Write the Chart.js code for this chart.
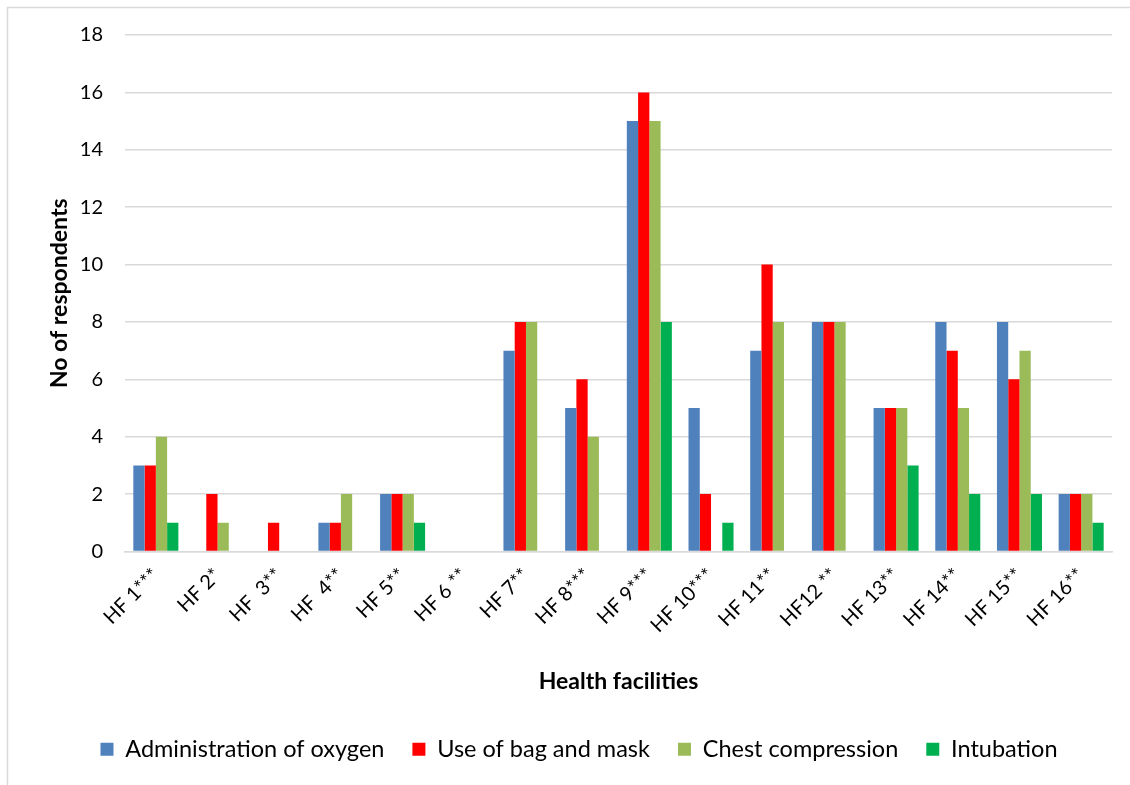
<!DOCTYPE html>
<html>
<head>
<meta charset="utf-8">
<script src="https://cdn.jsdelivr.net/npm/chart.js@4.4.1/dist/chart.umd.min.js"></script>
<style>
  html, body { margin: 0; padding: 0; background: #ffffff; }
  #wrap { width: 1130px; height: 785px; }
</style>
</head>
<body>
<div id="wrap"><canvas id="chart" width="1130" height="785"></canvas></div>
<script>
// Facilities and counts per skill
const facilities = ['HF 1***', 'HF 2*', 'HF  3**', 'HF  4**', 'HF 5**', 'HF 6 **', 'HF 7**', 'HF 8***',
  'HF 9***', 'HF 10***', 'HF 11**', 'HF12 **', 'HF 13**', 'HF 14**', 'HF 15**', 'HF 16**'];
const oxygen      = [3, 0, 0, 1, 2, 0, 7, 5, 15, 5, 7, 8, 5, 8, 8, 2];
const bagMask     = [3, 2, 1, 1, 2, 0, 8, 6, 16, 2, 10, 8, 5, 7, 6, 2];
const compression = [4, 1, 0, 2, 2, 0, 8, 4, 15, 0, 8, 8, 5, 5, 7, 2];
const intubation  = [1, 0, 0, 0, 1, 0, 0, 0, 8, 1, 0, 0, 3, 2, 2, 1];
const yTicks = [0, 2, 4, 6, 8, 10, 12, 14, 16, 18];

const FONT = 'Lato, "Open Sans", sans-serif';
const GRID = '#d9d9d9';

// thin frame around the whole chart
const frame = {
  id: 'frame',
  beforeDraw(chart) {
    const ctx = chart.ctx;
    ctx.save();
    ctx.fillStyle = '#ffffff';
    ctx.fillRect(0, 0, chart.width, chart.height);
    ctx.strokeStyle = GRID;
    ctx.lineWidth = 1.5;
    ctx.strokeRect(7.5, 7.5, chart.width + 10, chart.height + 10);
    ctx.restore();
  }
};

const bar = (label, data, color) => ({
  label, data,
  backgroundColor: color,
  borderWidth: 0,
  categoryPercentage: 0.73,
  barPercentage: 1
});

new Chart(document.getElementById('chart'), {
  type: 'bar',
  data: {
    labels: facilities,
    datasets: [
      bar('Administration of oxygen', oxygen, '#4f81bd'),
      bar('Use of bag and mask', bagMask, '#ff0000'),
      bar('Chest compression', compression, '#9bbb59'),
      bar('Intubation', intubation, '#00b050')
    ]
  },
  options: {
    responsive: false,
    animation: false,
    layout: { padding: { top: 35, right: 18, bottom: 14, left: 46 } },
    plugins: {
      tooltip: { enabled: false },
      legend: {
        position: 'bottom',
        labels: {
          color: '#000000',
          font: { family: FONT, size: 23.5 },
          boxWidth: 13,
          boxHeight: 13,
          padding: 28
        }
      }
    },
    scales: {
      x: {
        grid: { display: false, drawTicks: false },
        border: { color: GRID, width: 1.5 },
        ticks: {
          color: '#000000',
          font: { family: FONT, size: 20 },
          minRotation: 45,
          maxRotation: 45,
          padding: 12
        },
        title: {
          display: true,
          text: 'Health facilities',
          color: '#000000',
          font: { family: FONT, size: 23, weight: 'bold' },
          padding: { top: 0, bottom: 14 }
        },
        afterFit(scale) { scale.height = 158; }
      },
      y: {
        min: 0,
        max: 18,
        afterBuildTicks(scale) { scale.ticks = yTicks.map(v => ({ value: v })); },
        grid: { color: GRID, lineWidth: 1.5, drawTicks: false },
        border: { display: false },
        ticks: {
          color: '#000000',
          font: { family: FONT, size: 20 },
          padding: 22
        },
        title: {
          display: true,
          text: 'No of respondents',
          color: '#000000',
          font: { family: FONT, size: 23, weight: 'bold' },
          padding: { top: 0, bottom: 0 }
        },
        afterFit(scale) { scale.width = 79; }
      }
    }
  },
  plugins: [frame]
});
</script>
</body>
</html>
